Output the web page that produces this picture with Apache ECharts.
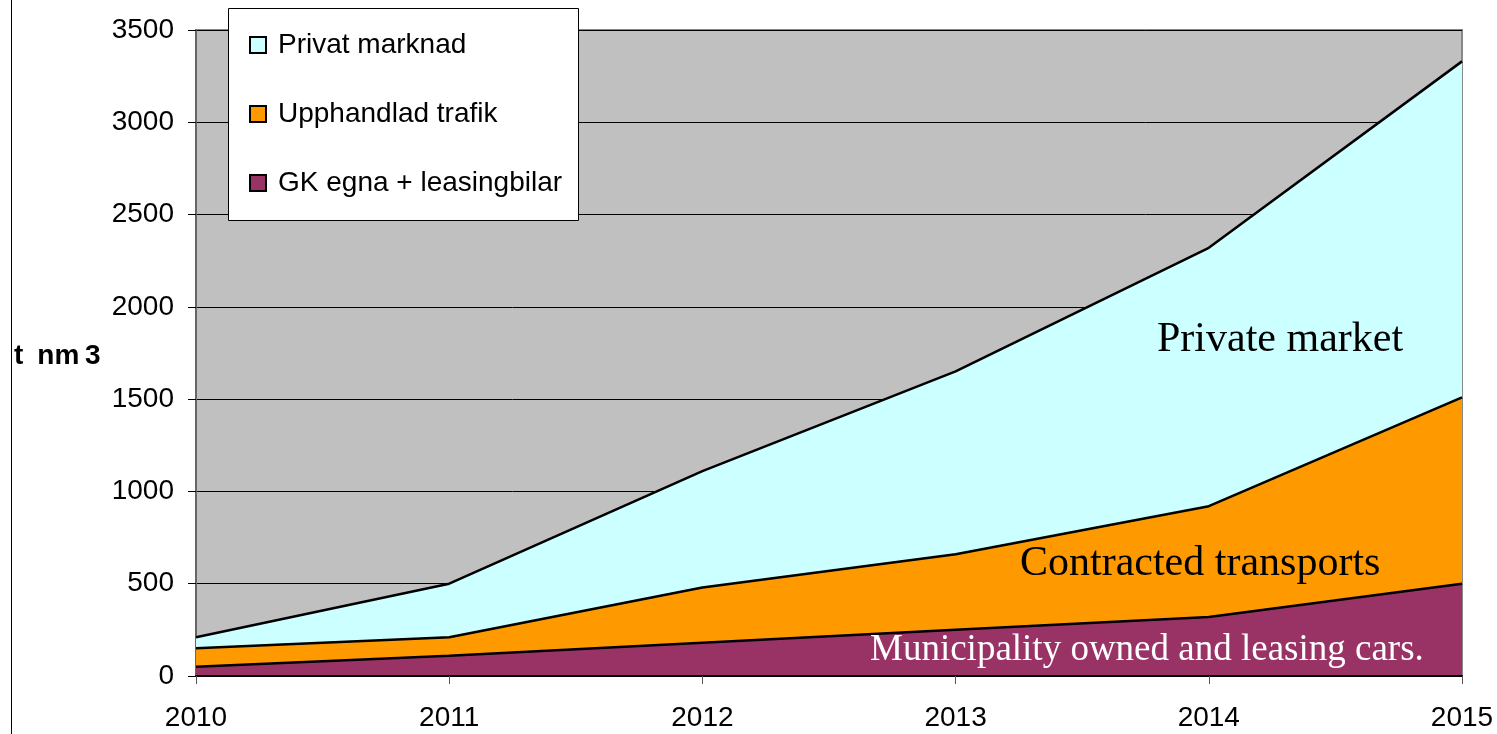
<!DOCTYPE html>
<html><head><meta charset="utf-8">
<script src="https://cdn.jsdelivr.net/npm/echarts@6/dist/echarts.min.js"></script>
<style>html,body{margin:0;padding:0;background:#fff}#c{width:1497px;height:734px}</style>
</head><body><div id="c"></div>
<script>
const years = ['2010','2011','2012','2013','2014','2015'];
const gkEgna = [50, 110, 180, 250, 320, 500];
const upphandlad = [100, 100, 300, 410, 600, 1010];
const privat = [60, 290, 630, 990, 1400, 1820];
const yTicks = [0, 500, 1000, 1500, 2000, 2500, 3000, 3500];

const chart = echarts.init(document.getElementById('c'));
const font = '"Liberation Sans", Arial, sans-serif';
const serif = '"Liberation Serif", "Times New Roman", serif';
function areaSeries(name, data, color) {
  return {
    name, type: 'line', stack: 'total', data, symbol: 'none',
    lineStyle: { color: '#000', width: 2.5 },
    areaStyle: { color, opacity: 1 },
    itemStyle: { color, borderColor: '#000', borderWidth: 2 },
    z: 3
  };
}
chart.setOption({
  animation: false,
  textStyle: { fontFamily: font },
  grid: { left: 196, right: 35, top: 30, bottom: 58, show: true, backgroundColor: '#C0C0C0', borderColor: '#888', borderWidth: 2 },
  legend: {
    orient: 'vertical', left: 249, top: 31, z: 6,
    padding: 0, itemGap: 41,
    itemWidth: 16, itemHeight: 16, icon: 'rect',
    textStyle: { fontSize: 28, color: '#000', fontFamily: font, padding: [0, 0, 0, 7] },
    data: ['Privat marknad', 'Upphandlad trafik', 'GK egna + leasingbilar']
  },
  xAxis: {
    type: 'category', data: years, boundaryGap: false,
    axisLine: { lineStyle: { color: '#000', width: 2 } },
    axisTick: { show: true, length: 8, lineStyle: { color: '#555' } },
    axisLabel: { fontSize: 28, color: '#000', margin: 28 },
    z: 10
  },
  yAxis: {
    type: 'value', min: yTicks[0], max: yTicks[yTicks.length - 1], interval: 500,
    axisLine: { show: true, lineStyle: { color: '#666', width: 2 } },
    axisTick: { show: true, length: 8, lineStyle: { color: '#000' } },
    axisLabel: { fontSize: 28, color: '#000', margin: 22, formatter: v => String(v) },
    splitLine: { lineStyle: { color: '#000', width: 1 } }
  },
  series: [
    areaSeries('GK egna + leasingbilar', gkEgna, '#993366'),
    areaSeries('Upphandlad trafik', upphandlad, '#FF9900'),
    areaSeries('Privat marknad', privat, '#CCFFFF')
  ],
  graphic: [
    { type: 'line', shape: { x1: 11.5, y1: 0, x2: 11.5, y2: 734 }, style: { stroke: '#000', lineWidth: 1 } },
    { type: 'rect', z: 5, shape: { x: 228.5, y: 8.5, width: 350, height: 212 }, style: { fill: '#fff', stroke: '#000', lineWidth: 1 } },
    { type: 'text', x: 14, y: 356, z: 100, style: { text: 't\u2002nm\u20093', font: 'bold 28px ' + font, fill: '#000', verticalAlign: 'middle' } },
    { type: 'text', x: 1157, y: 340, z: 100, style: { text: 'Private market', font: '42px ' + serif, fill: '#000', verticalAlign: 'middle' } },
    { type: 'text', x: 1020, y: 564, z: 100, style: { text: 'Contracted transports', font: '42px ' + serif, fill: '#000', verticalAlign: 'middle' } },
    { type: 'text', x: 870, y: 650, z: 100, style: { text: 'Municipality owned and leasing cars.', font: '37px ' + serif, fill: '#fff', verticalAlign: 'middle' } }
  ]
});
</script></body></html>
